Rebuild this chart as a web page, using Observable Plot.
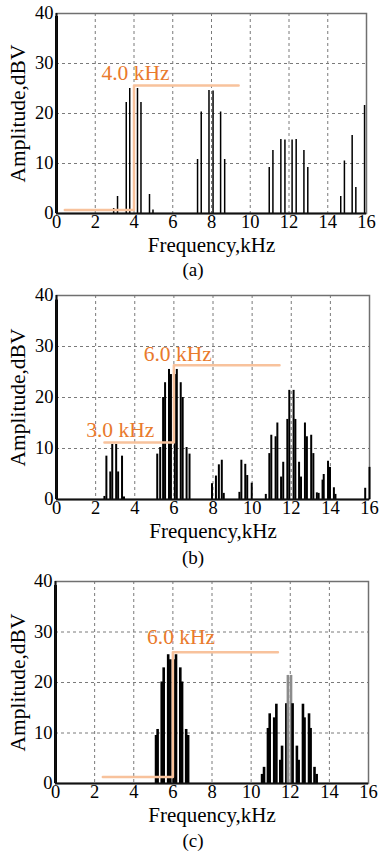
<!DOCTYPE html>
<html><head><meta charset="utf-8">
<script src="https://cdn.jsdelivr.net/npm/d3@7"></script>
<script src="https://cdn.jsdelivr.net/npm/@observablehq/plot@0.6"></script>
<style>
body{margin:0;background:#fff;}
#wrap{position:relative;width:379px;height:853px;overflow:hidden;font-family:"Liberation Serif","Times New Roman",serif;background:#fff;}
.panel{position:absolute;left:0;}
.cap{position:absolute;left:0;width:386px;text-align:center;font-size:19px;line-height:1;color:#000;}
</style></head><body><div id="wrap"></div>
<script>
// ---- shared axis content ----
const xTicks = [0, 2, 4, 6, 8, 10, 12, 14, 16];
const yTicks = [0, 10, 20, 30, 40];
const xLabel = "Frequency,kHz";
const yLabel = "Amplitude,dBV";
const captions = ["(a)", "(b)", "(c)"];

// ---- panel (a) ----
const freqA = [0, 2.95, 3.15, 3.6, 3.78, 4.18, 4.36, 4.8, 4.98, 7.28, 7.47, 7.87, 8.08, 8.47, 8.68, 10.98, 11.17, 11.58, 11.79, 12.16, 12.37, 12.77, 12.97, 14.67, 14.86, 15.26, 15.45, 15.9];
const ampA  = [39.4, 1.0, 3.4, 22.2, 25.0, 25.0, 22.2, 3.8, 0.7, 10.8, 20.3, 24.6, 24.5, 20.3, 10.8, 9.2, 12.6, 14.8, 14.7, 14.7, 14.8, 12.6, 9.2, 3.4, 10.5, 15.6, 5.2, 21.6];
const markFreqA = [0.43, 4.0, 4.0, 9.4];
const markAmpA  = [0.7, 0.7, 25.6, 25.6];
const noteTextA = ["4.0 kHz"];
const noteFreqA = [2.32];
const noteAmpA  = [26.7];

// ---- panel (b) ----
const freqB = [0, 2.45, 2.55, 2.75, 2.85, 3.05, 3.15, 3.35, 3.45, 5.15, 5.3, 5.45, 5.55, 5.75, 5.85, 6.05, 6.15, 6.35, 6.45, 6.65, 6.8, 7.95, 8.15, 8.3, 8.45, 8.55, 9.35, 9.45, 9.65, 9.75, 9.98, 10.7, 10.88, 10.98, 11.2, 11.29, 11.48, 11.59, 11.8, 11.9, 12.12, 12.21, 12.4, 12.5, 12.7, 12.8, 13.02, 13.13, 13.31, 13.4, 13.6, 13.66, 13.88, 13.98, 14.18, 14.26, 15.78, 16];
const ampB  = [39.1, 0.6, 8.5, 5.4, 10.8, 10.8, 5.4, 8.5, 0.5, 8.9, 10.2, 20, 22.9, 25.5, 24.5, 24.5, 25.5, 22.9, 20, 10.2, 8.9, 3.1, 4.6, 6.8, 7.7, 1.2, 1.4, 7.7, 6.9, 4.7, 3.2, 1.0, 9.0, 12.6, 12.3, 15, 4.4, 7.3, 15.7, 21.4, 21.4, 15.7, 7.3, 4.4, 15, 12.3, 12.6, 9.0, 1.3, 1.2, 3.8, 4.9, 7.5, 6.3, 2.3, 1.0, 2.2, 6.3];
const markFreqB = [2.45, 6.0, 6.0, 11.4];
const markAmpB  = [11.2, 11.2, 26.3, 26.3];
const noteTextB = ["3.0 kHz", "6.0 kHz"];
const noteFreqB = [1.52, 4.46];
const noteAmpB  = [12.2, 27.1];

// ---- panel (c) ----
const freqC = [0, 5.14, 5.22, 5.43, 5.53, 5.76, 5.87, 6.04, 6.16, 6.38, 6.47, 6.68, 6.78, 10.56, 10.66, 10.86, 10.95, 11.18, 11.29, 11.49, 11.58, 11.8, 11.88, 12.04, 12.12, 12.34, 12.43, 12.65, 12.73, 12.96, 13.04, 13.24, 13.35];
const ampC  = [39.2, 9.5, 10.7, 20.1, 22.9, 25.5, 24.5, 24.5, 25.5, 22.9, 20.1, 10.7, 9.5, 1.8, 3.2, 10.9, 13.8, 13.0, 15.7, 4.6, 7.4, 15.8, 21.4, 21.4, 15.8, 7.4, 4.6, 15.7, 13.0, 13.8, 10.9, 3.2, 1.8];
const markFreqC = [2.42, 6.0, 6.0, 11.37];
const markAmpC  = [1.3, 1.3, 26.0, 26.0];
const noteTextC = ["6.0 kHz"];
const noteFreqC = [4.68];
const noteAmpC  = [27.6];

const zip2 = (fs, as) => fs.map((f, i) => ({f, a: as[i]}));
const notes = (ts, fs, as) => ts.map((t, i) => ({t, f: fs[i], a: as[i]}));

const ORANGE_LINE = "#F8C29C";
const ORANGE_TEXT = "#E97A2C";
const FONT = "Liberation Serif, Times New Roman, serif";

function panel({freq, amp, mf, ma, nt, nf, na, ml, mr, top, frameH, barW, barColor, dcW}) {
  const bars = zip2(freq, amp);
  const path = zip2(mf, ma);
  const labels = notes(nt, nf, na);
  const svg = Plot.plot({
    width: 379,
    height: 13 + frameH + 48,
    marginLeft: ml, marginRight: mr, marginTop: 13, marginBottom: 48,
    style: "font-family: 'Liberation Serif', 'Times New Roman', serif; background: transparent; overflow: visible; color: #000;",
    x: {domain: [0, 16]},
    y: {domain: [0, 40]},
    marks: [
      Plot.gridX({ticks: xTicks.slice(1, -1), stroke: "#7a7a7a", strokeOpacity: 1, strokeWidth: 1, strokeDasharray: "3,3"}),
      Plot.gridY({ticks: yTicks.slice(1, -1), stroke: "#7a7a7a", strokeOpacity: 1, strokeWidth: 1, strokeDasharray: "3,3"}),
      Plot.frame({stroke: "#707070", strokeWidth: 1.5}),
      Plot.ruleX(bars, {x: "f", y1: 0, y2: "a", stroke: barColor || "black", strokeWidth: d => d.f === 0 ? dcW : barW}),
      Plot.ruleY([0], {stroke: "#111", strokeWidth: 2}),
      Plot.ruleX([0], {stroke: "#111", strokeWidth: 2}),
      Plot.line(path, {x: "f", y: "a", stroke: ORANGE_LINE, strokeWidth: 2.5}),
      Plot.text(labels, {x: "f", y: "a", text: "t", textAnchor: "start", lineAnchor: "bottom", fill: ORANGE_TEXT, fontSize: 21.5, fontFamily: FONT}),
      Plot.axisX({ticks: xTicks, tickSize: 0, tickPadding: 1, fontSize: 18.5, fontFamily: FONT, label: null}),
      Plot.axisY({ticks: yTicks, tickSize: 0, tickPadding: 3, fontSize: 18.5, fontFamily: FONT, label: null}),
      Plot.text([xLabel], {frameAnchor: "bottom", textAnchor: "middle", lineAnchor: "bottom", dy: 38, fontSize: 21, fontFamily: FONT}),
      Plot.text([yLabel], {frameAnchor: "left", textAnchor: "middle", rotate: -90, lineAnchor: "bottom", dx: -ml + 24, fontSize: 21.5, fontFamily: FONT})
    ]
  });
  svg.classList.add("panel");
  svg.style.top = top + "px";
  return svg;
}

const wrap = document.getElementById("wrap");
wrap.appendChild(panel({freq: freqA, amp: ampA, mf: markFreqA, ma: markAmpA, nt: noteTextA, nf: noteFreqA, na: noteAmpA,
  ml: 56, mr: 13, top: 0, frameH: 200, barW: 1.5, dcW: 3}));
wrap.appendChild(panel({freq: freqB, amp: ampB, mf: markFreqB, ma: markAmpB, nt: noteTextB, nf: noteFreqB, na: noteAmpB,
  ml: 56, mr: 10, top: 282, frameH: 204, barW: 2, dcW: 3}));
wrap.appendChild(panel({freq: freqC, amp: ampC, mf: markFreqC, ma: markAmpC, nt: noteTextC, nf: noteFreqC, na: noteAmpC,
  ml: 55, mr: 11, top: 568, frameH: 202, barW: 2.6, dcW: 3,
  barColor: d => (d.f > 11.85 && d.f < 12.1) ? "#8c8c8c" : "black"}));

const capBase = [276, 564, 847];
captions.forEach((c, i) => {
  const d = document.createElement("div");
  d.className = "cap";
  d.textContent = c;
  d.style.top = (capBase[i] - 16) + "px";
  wrap.appendChild(d);
});
</script></body></html>
